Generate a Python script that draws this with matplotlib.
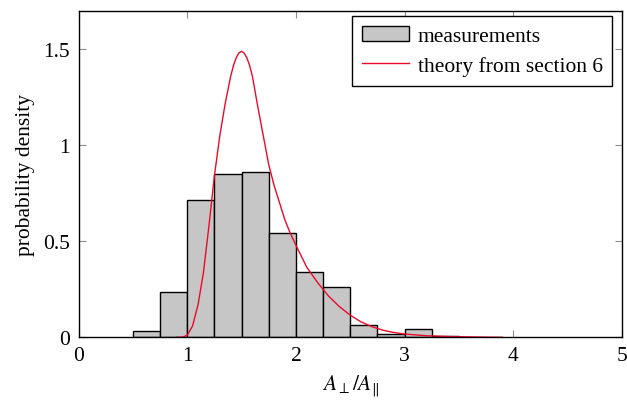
import numpy as np
import matplotlib
matplotlib.use("Agg")
import matplotlib.pyplot as plt
from matplotlib.patches import Patch
from matplotlib.lines import Line2D

# Histogram of measured ratios (bin edges and normalized densities)
bin_edges = [0.5, 0.75, 1.0, 1.25, 1.5, 1.75, 2.0, 2.25, 2.5, 2.75, 3.0, 3.25, 3.5]
densities = [0.031, 0.237, 0.716, 0.853, 0.863, 0.544, 0.340, 0.260, 0.066, 0.019, 0.045, 0.008]

# Theoretical density curve
theory_x = [0.90, 0.95, 1.00, 1.05, 1.10, 1.15, 1.20, 1.25, 1.30, 1.35, 1.40, 1.425,
            1.45, 1.475, 1.50, 1.525, 1.55, 1.575, 1.60, 1.65, 1.70, 1.75, 1.80,
            1.85, 1.90, 1.95, 2.00, 2.10, 2.20, 2.30, 2.40, 2.50, 2.60, 2.70,
            2.80, 2.90, 3.00, 3.20, 3.40, 3.60, 3.90]
theory_y = [0.0, 0.0, 0.01, 0.06, 0.17, 0.34, 0.58, 0.84, 1.05, 1.22, 1.36, 1.415,
            1.455, 1.482, 1.49, 1.48, 1.455, 1.415, 1.36, 1.20, 1.05, 0.90, 0.79,
            0.70, 0.61, 0.54, 0.48, 0.365, 0.285, 0.215, 0.16, 0.115, 0.08, 0.055,
            0.037, 0.025, 0.017, 0.008, 0.004, 0.002, 0.0]

x_ticks = [0, 1, 2, 3, 4, 5]
y_ticks = [0, 0.5, 1, 1.5]
y_tick_labels = ["0", "0.5", "1", "1.5"]

plt.rcParams["font.family"] = ["Liberation Serif", "DejaVu Serif"]
plt.rcParams["mathtext.fontset"] = "stix"
FS = 15.5

fig = plt.figure(figsize=(6.27, 4.02), dpi=100)
ax = fig.add_axes([0.1252, 0.1585, 0.992 - 0.1252, 0.970 - 0.1585])

edges = np.array(bin_edges)
ax.bar(edges[:-1], densities, width=np.diff(edges), align="edge",
       color="#c6c6c6", edgecolor="black", linewidth=1.0, zorder=2)

red = "#ea0a2a"
ax.plot(theory_x, theory_y, color=red, linewidth=1.0, zorder=3)

ax.set_xlim(0, 5)
ax.set_ylim(0, 1.7)
ax.set_xticks(x_ticks)
ax.set_xticklabels([str(t) for t in x_ticks])
ax.set_yticks(y_ticks)
ax.set_yticklabels(y_tick_labels)

ax.tick_params(axis="both", which="major", direction="in", length=5,
               width=0.8, color="#8c8c8c", labelsize=FS,
               top=True, right=True, pad=6)

for s in ax.spines.values():
    s.set_linewidth(1.0)
    s.set_color("black")
    s.set_zorder(5)

ax.set_xlabel(r"$A_\perp/A_\|$", fontsize=FS, labelpad=6)
ax.set_ylabel("probability density", fontsize=FS, labelpad=6)

handles = [Patch(facecolor="#c6c6c6", edgecolor="black", linewidth=1.0),
           Line2D([0], [0], color=red, linewidth=1.0)]
leg = ax.legend(handles, ["measurements", "theory from section 6"],
                loc="upper right", bbox_to_anchor=(0.982, 0.985),
                borderaxespad=0, fontsize=FS, frameon=True, fancybox=False,
                edgecolor="black", framealpha=1, handlelength=2.2,
                handleheight=0.75, handletextpad=0.4, borderpad=0.45,
                labelspacing=0.45)
leg.get_frame().set_linewidth(1.0)

fig.savefig("out.png", dpi=100)
